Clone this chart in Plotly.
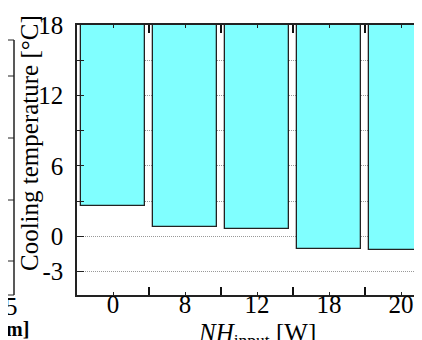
import plotly.graph_objects as go

# Data
categories = ["0", "8", "12", "18", "20"]          # NH_input [W]
bottom_temp = [2.6, 0.8, 0.6, -1.1, -1.15]         # lower end of each cooling range [°C]
top_temp = [18.5, 18.5, 18.5, 18.5, 18.5]          # ranges run off the top of the axis
y_tickvals = [-3, 0, 3, 6, 9, 12, 15, 18]
y_ticktext = ["-3", "0", "", "6", "", "12", "", "18"]

W, H = 422, 340
L, R, T, B = 69, 0, 17, 53
pw, ph = W - L - R, H - T - B

def px_x(p):
    return (p - L) / pw

def px_y(p):
    return (H - B - p) / ph

xs = list(range(len(categories)))
fig = go.Figure()
fig.add_trace(go.Bar(
    x=xs,
    y=[t - b for t, b in zip(top_temp, bottom_temp)],
    base=bottom_temp,
    width=0.89,
    marker=dict(color="#80FFFF", line=dict(color="#222", width=1.3)),
    hoverinfo="skip",
))

font_fam = "Liberation Serif"
FS = 25
fig.update_layout(
    template="none",
    width=W, height=H,
    margin=dict(l=L, r=R, t=T, b=B, pad=0, autoexpand=False),
    paper_bgcolor="white", plot_bgcolor="white",
    showlegend=False,
    font=dict(family=font_fam, size=FS, color="black"),
    bargap=0,
)
fig.update_xaxes(
    automargin=False,
    range=[-0.5, (W - 105) / 72],
    tickmode="array", tickvals=xs, ticktext=categories,
    ticks="inside", ticklen=3, tickwidth=1, tickcolor="#222",
    minor=dict(tickmode="array", tickvals=[0.5, 1.5, 2.5, 3.5], ticks="inside",
               ticklen=8, tickwidth=1.5, tickcolor="#111"),
    showline=True, linecolor="#222", linewidth=1.5, mirror="ticks",
    showgrid=False, zeroline=False,
    tickfont=dict(family=font_fam, size=FS),
    ticklabelstandoff=-14,
)
fig.update_yaxes(
    automargin=False,
    range=[-5, 18],
    tickmode="array", tickvals=y_tickvals, ticktext=y_ticktext,
    ticks="inside", ticklen=7, tickwidth=1.2, tickcolor="#222",
    showline=True, linecolor="#222", linewidth=1.5, mirror=False,
    showgrid=True, gridcolor="#999", gridwidth=1, griddash="1px,1px",
    zeroline=False,
    tickfont=dict(family=font_fam, size=FS),
    ticklabelstandoff=7,
)

# axis titles
fig.add_annotation(
    text="Cooling temperature [°C]", textangle=-90,
    xref="paper", yref="paper", x=px_x(21), y=px_y(135),
    showarrow=False, font=dict(family=font_fam, size=FS),
    xanchor="center", yanchor="middle",
)
fig.add_annotation(
    text="<i>NH</i><sub>input</sub> [W]",
    xref="paper", yref="paper", x=px_x(249), y=px_y(326),
    showarrow=False, font=dict(family=font_fam, size=FS),
    xanchor="center", yanchor="middle",
)

# fragment of the neighbouring panel at the left edge
frag_rows = [32, 68, 130, 192, 253, 287]
fig.add_shape(type="line", xref="paper", yref="paper",
              x0=px_x(6), x1=px_x(6), y0=px_y(32), y1=px_y(287),
              line=dict(color="#222", width=1.5))
for r in frag_rows:
    fig.add_shape(type="line", xref="paper", yref="paper",
                  x0=px_x(0), x1=px_x(6), y0=px_y(r), y1=px_y(r),
                  line=dict(color="#222", width=1))
fig.add_annotation(text="5", xref="paper", yref="paper", x=px_x(3), y=px_y(298),
                   showarrow=False, font=dict(family=font_fam, size=FS),
                   xanchor="center", yanchor="middle")
fig.add_annotation(text="<b>m]</b>", xref="paper", yref="paper", x=px_x(-4), y=px_y(321),
                   showarrow=False, font=dict(family=font_fam, size=20),
                   xanchor="left", yanchor="middle")

fig.write_html("out.html")
